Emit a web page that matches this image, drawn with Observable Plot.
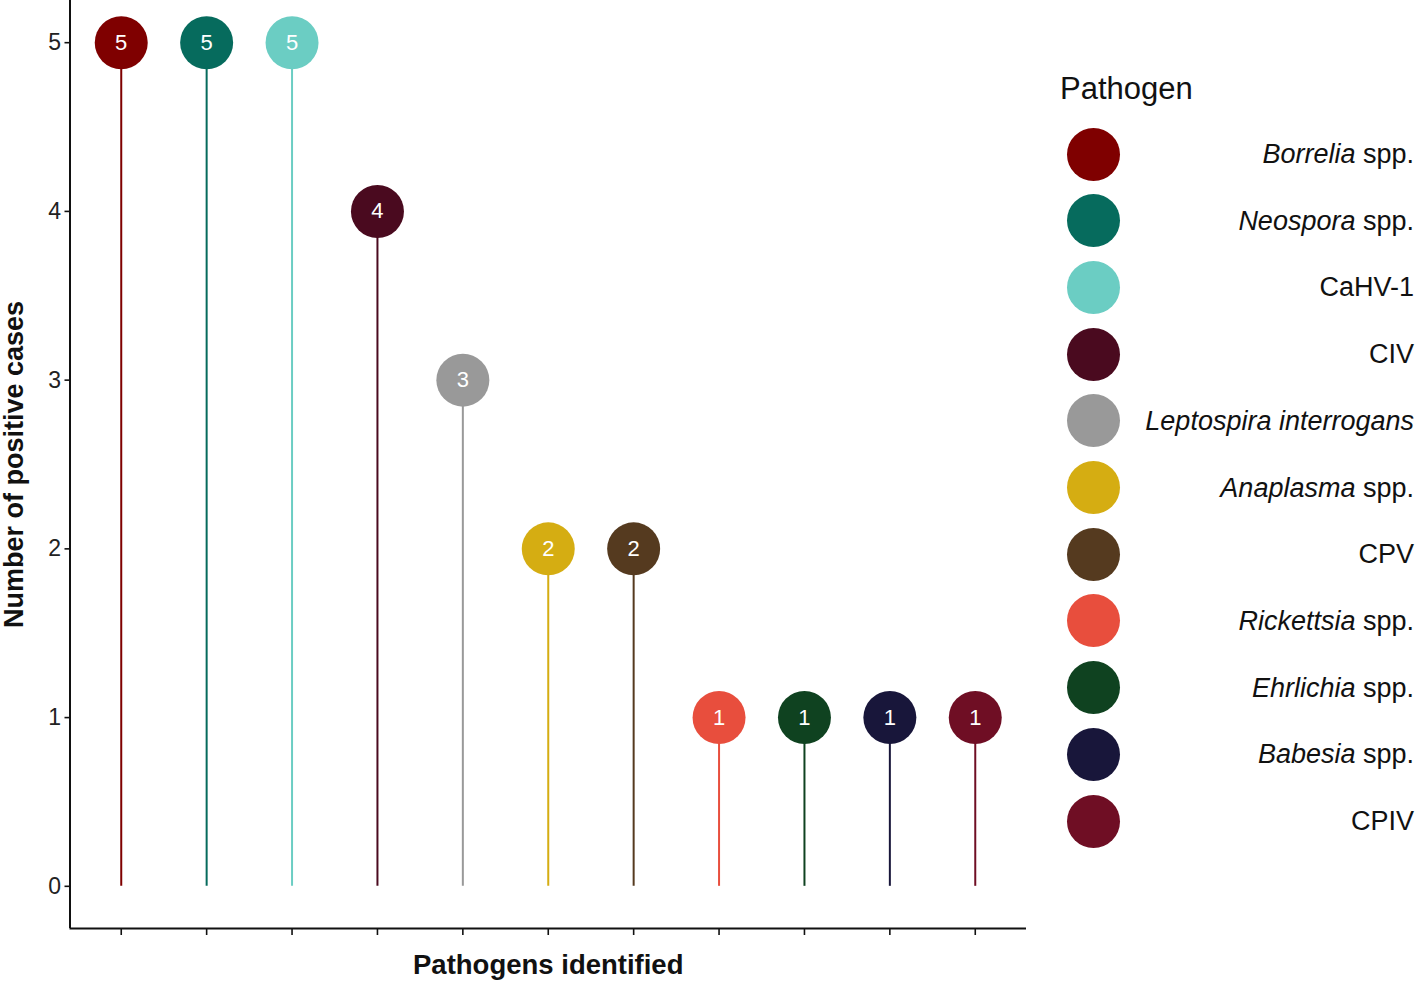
<!DOCTYPE html>
<html><head><meta charset="utf-8">
<script src="https://cdn.jsdelivr.net/npm/d3@7"></script>
<script src="https://cdn.jsdelivr.net/npm/@observablehq/plot@0.6"></script>
<style>
body{margin:0;background:#fff;font-family:"Liberation Sans",Arial,sans-serif;}
#wrap{position:relative;width:1416px;height:982px;overflow:hidden;}
#chart{position:absolute;left:0;top:0;}
.lg-title{position:absolute;left:1060px;top:71px;font-size:31px;color:#111;}
.lg-dot{position:absolute;width:53px;height:53px;border-radius:50%;}
.lg-lab{position:absolute;right:2px;font-size:27px;color:#111;white-space:nowrap;transform:translateY(-50%);}
</style></head><body>
<div id="wrap"><div id="chart"></div></div>
<script>
const pathogens = ["Borrelia spp.","Neospora spp.","CaHV-1","CIV","Leptospira interrogans","Anaplasma spp.","CPV","Rickettsia spp.","Ehrlichia spp.","Babesia spp.","CPIV"];
const italicPart = ["Borrelia","Neospora","","","Leptospira interrogans","Anaplasma","","Rickettsia","Ehrlichia","Babesia",""];
const cases = [5,5,5,4,3,2,2,1,1,1,1];
const colors = ["#7f0000","#066b5d","#6bcdc3","#4a0a1f","#999999","#d5ad12","#553a1f","#e84e3d","#0f4220","#18163a","#6f0e24"];
const yTicks = [0,1,2,3,4,5];

const data = pathogens.map((p,i)=>({pathogen:p, idx:i+1, n:cases[i], color:colors[i]}));

const plot = Plot.plot({
  width: 1040, height: 982,
  marginLeft: 69.5, marginTop: 0, marginRight: 14, marginBottom: 54,
  style: {fontFamily: "Liberation Sans, Arial, sans-serif", fontSize: "21px", color: "#111", background: "#fff"},
  x: {domain: [0.4, 11.6]},
  y: {domain: [-0.25, 5.25]},
  marks: [
    Plot.ruleX(data, {x: "idx", y1: 0, y2: "n", stroke: "color", strokeWidth: 2}),
    Plot.dot(data, {x: "idx", y: "n", r: 26.5, fill: "color"}),
    Plot.text(data, {x: "idx", y: "n", text: d => String(d.n), fill: "white", fontSize: 22}),
    Plot.axisY({ticks: yTicks, tickFormat: () => "", tickSize: 5, label: null, strokeWidth: 1.6}),
    Plot.text(yTicks, {x: 0.4, y: d => d, text: d => String(d), textAnchor: "end", dx: -9, fontSize: 23, fill: "#222"}),
    Plot.axisX({ticks: data.map(d => d.idx), tickFormat: () => "", tickSize: 7, label: null, strokeWidth: 1.6}),
    Plot.ruleY([-0.25], {stroke: "#111", strokeWidth: 2}),
    Plot.ruleX([0.4], {stroke: "#111", strokeWidth: 2}),
    Plot.text(["Number of positive cases"], {frameAnchor: "left", rotate: -90, textAnchor: "middle", lineAnchor: "middle", dx: -56, dy: 0, fontWeight: "bold", fontSize: 27, fill: "#111"}),
    Plot.text(["Pathogens identified"], {frameAnchor: "bottom", textAnchor: "middle", lineAnchor: "middle", dy: 37, fontWeight: "bold", fontSize: 27.5, fill: "#111"})
  ]
});
document.getElementById("chart").appendChild(plot);

const wrap = document.getElementById("wrap");
const t = document.createElement("div");
t.className = "lg-title"; t.textContent = "Pathogen";
wrap.appendChild(t);
pathogens.forEach((p, i) => {
  const cy = 154 + i * 66.7;
  const d = document.createElement("div");
  d.className = "lg-dot";
  d.style.left = (1093 - 26.5) + "px";
  d.style.top = (cy - 26.5) + "px";
  d.style.background = colors[i];
  wrap.appendChild(d);
  const l = document.createElement("div");
  l.className = "lg-lab";
  l.style.top = cy + "px";
  const it = italicPart[i];
  if (it) {
    const e = document.createElement("i"); e.textContent = it; l.appendChild(e);
    l.appendChild(document.createTextNode(p.slice(it.length)));
  } else {
    l.textContent = p;
  }
  wrap.appendChild(l);
});
</script>
</body></html>
